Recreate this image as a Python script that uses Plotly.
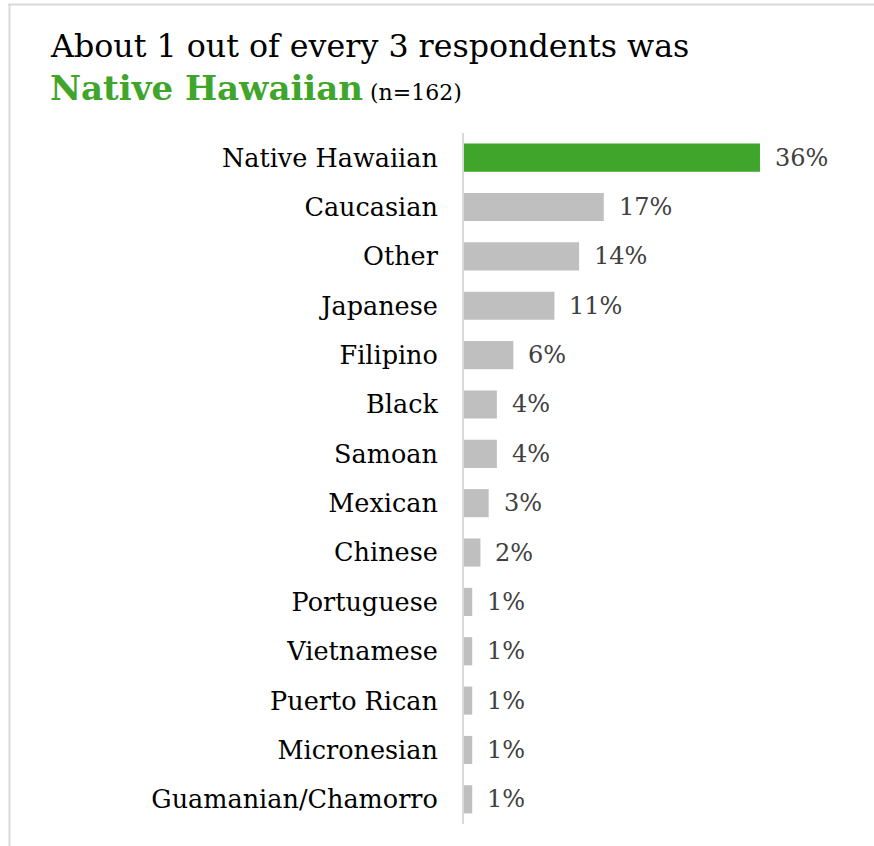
import plotly.graph_objects as go

# Survey respondents by ethnicity (percent of n=162)
categories = [
    "Native Hawaiian", "Caucasian", "Other", "Japanese", "Filipino", "Black",
    "Samoan", "Mexican", "Chinese", "Portuguese", "Vietnamese", "Puerto Rican",
    "Micronesian", "Guamanian/Chamorro",
]
percents = [36, 17, 14, 11, 6, 4, 4, 3, 2, 1, 1, 1, 1, 1]

GREEN = "#3fa62b"
GREY = "#bfbfbf"
FONT = "DejaVu Serif"

W, H = 874, 846
M_L, M_R, M_T, M_B = 464, 48, 133, 22
PLOT_W = W - M_L - M_R
PLOT_H = H - M_T - M_B
X_MAX = 44.03


def px_x(px):
    return (px - M_L) / PLOT_W


def px_y(py):
    return (H - M_B - py) / PLOT_H


colors = [GREEN if i == 0 else GREY for i in range(len(categories))]

fig = go.Figure(
    go.Bar(
        x=percents,
        y=categories,
        orientation="h",
        marker=dict(color=colors, line=dict(width=0)),
        width=0.57,
        hoverinfo="skip",
    )
)

# value labels to the right of each bar
for cat, v in zip(categories, percents):
    fig.add_annotation(
        x=v, y=cat, xref="x", yref="y",
        text=f"{v}%", showarrow=False,
        xanchor="left", yanchor="middle", xshift=13,
        font=dict(family=FONT, size=24, color="#404040"),
    )

# two-line heading
fig.add_annotation(
    x=px_x(48), y=px_y(46), xref="paper", yref="paper",
    text="About 1 out of every 3 respondents was",
    showarrow=False, xanchor="left", yanchor="middle",
    font=dict(family=FONT, size=31.7, color="#000000"),
)
fig.add_annotation(
    x=px_x(48), y=px_y(88), xref="paper", yref="paper",
    text=(f"<b><span style='color:{GREEN}'>Native Hawaiian</span></b>"
          "<span style='font-size:22px'> (n=162)</span>"),
    showarrow=False, xanchor="left", yanchor="middle",
    font=dict(family=FONT, size=34, color="#000000"),
)

# frame edges along top and left
fig.add_shape(type="line", xref="paper", yref="paper",
              x0=px_x(8), x1=px_x(W + 2), y0=px_y(4.5), y1=px_y(4.5),
              line=dict(color="#d9d9d9", width=2))
fig.add_shape(type="line", xref="paper", yref="paper",
              x0=px_x(9.5), x1=px_x(9.5), y0=px_y(4), y1=px_y(H + 2),
              line=dict(color="#d9d9d9", width=2))

fig.update_layout(
    width=W, height=H,
    margin=dict(l=M_L, r=M_R, t=M_T, b=M_B, pad=0),
    paper_bgcolor="white", plot_bgcolor="white",
    showlegend=False,
    xaxis=dict(range=[0, X_MAX], visible=False, fixedrange=True),
    yaxis=dict(
        autorange="reversed",
        showline=True, linecolor="#d9d9d9", linewidth=2,
        showgrid=False, zeroline=False, ticks="",
        ticklabelstandoff=19,
        tickfont=dict(family=FONT, size=25.5, color="#000000"),
        fixedrange=True,
    ),
)

fig.write_html("out.html")
